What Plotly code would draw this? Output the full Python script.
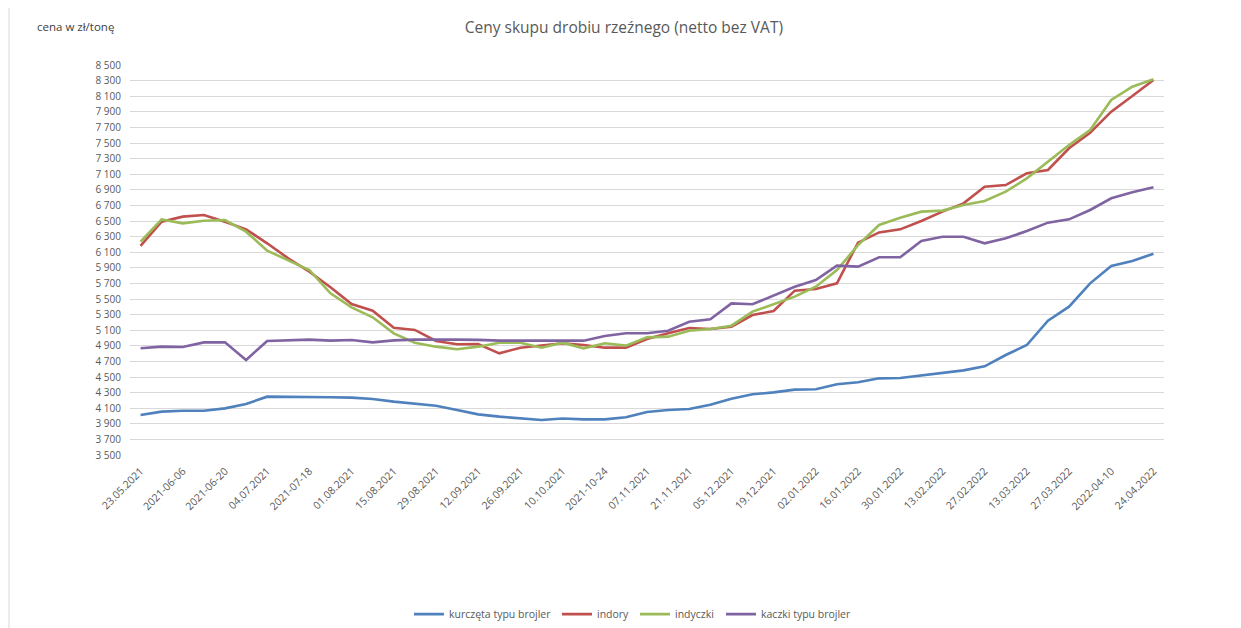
import plotly.graph_objects as go

dates = ["23.05.2021", "30.05.2021", "2021-06-06", "13.06.2021", "2021-06-20", "27.06.2021",
         "04.07.2021", "11.07.2021", "2021-07-18", "25.07.2021", "01.08.2021", "08.08.2021",
         "15.08.2021", "22.08.2021", "29.08.2021", "05.09.2021", "12.09.2021", "19.09.2021",
         "26.09.2021", "03.10.2021", "10.10.2021", "17.10.2021", "2021-10-24", "31.10.2021",
         "07.11.2021", "14.11.2021", "21.11.2021", "28.11.2021", "05.12.2021", "12.12.2021",
         "19.12.2021", "26.12.2021", "02.01.2022", "09.01.2022", "16.01.2022", "23.01.2022",
         "30.01.2022", "06.02.2022", "13.02.2022", "20.02.2022", "27.02.2022", "06.03.2022",
         "13.03.2022", "20.03.2022", "27.03.2022", "03.04.2022", "2022-04-10", "17.04.2022",
         "24.04.2022"]

kurczeta = [4013, 4056, 4068, 4068, 4098, 4154, 4248, 4248, 4240, 4240, 4235, 4218,
            4184, 4154, 4132, 4077, 4021, 3992, 3966, 3948, 3968, 3957, 3957, 3983,
            4051, 4077, 4090, 4145, 4222, 4278, 4303, 4338, 4342, 4406, 4432, 4483,
            4487, 4517, 4555, 4585, 4637, 4782, 4910, 5222, 5402, 5701, 5923, 5987,
            6081]
indory = [6180, 6491, 6556, 6577, 6491, 6393, 6214, 6021, 5850, 5650, 5436, 5350,
          5132, 5103, 4962, 4919, 4923, 4803, 4876, 4902, 4932, 4910, 4876, 4876,
          4987, 5060, 5128, 5115, 5145, 5295, 5346, 5607, 5628, 5701, 6222, 6354,
          6393, 6500, 6620, 6726, 6940, 6961, 7111, 7154, 7432, 7632, 7902, 8103,
          8308]
indyczki = [6235, 6521, 6470, 6504, 6513, 6363, 6120, 5992, 5872, 5573, 5393, 5265,
            5060, 4940, 4889, 4855, 4889, 4940, 4940, 4876, 4940, 4868, 4932, 4902,
            5008, 5017, 5094, 5115, 5158, 5338, 5436, 5530, 5658, 5872, 6190, 6449,
            6543, 6620, 6633, 6705, 6756, 6876, 7047, 7261, 7474, 7667, 8051, 8222,
            8316]
kaczki = [4868, 4889, 4885, 4944, 4944, 4718, 4962, 4970, 4979, 4966, 4974, 4944,
          4970, 4979, 4983, 4979, 4976, 4966, 4966, 4970, 4966, 4966, 5026, 5060,
          5060, 5094, 5209, 5239, 5444, 5432, 5543, 5658, 5744, 5928, 5915, 6035,
          6035, 6244, 6299, 6299, 6214, 6278, 6372, 6479, 6521, 6641, 6791, 6868,
          6932]

series_names = ["kurczęta typu brojler", "indory", "indyczki", "kaczki typu brojler"]
series_colors = ["#4F81BD", "#C0504D", "#9BBB59", "#8064A2"]

y_ticks = list(range(3500, 8501, 200))
y_text = [f"{v:,}".replace(",", " ") for v in y_ticks]

FONT = "Open Sans"
GRAY = "#595959"

# plot area in page pixels: left 130, width 1034, top 65, height 390
legend_left_px = [409, 557, 635, 721]
legend_ids = ["legend", "legend2", "legend3", "legend4"]

fig = go.Figure()
for name, vals, col, lid in zip(series_names, [kurczeta, indory, indyczki, kaczki],
                                series_colors, legend_ids):
    fig.add_trace(go.Scatter(x=dates, y=vals, mode="lines", name=name, legend=lid,
                             line=dict(color=col, width=2.6)))

legend_layout = {}
for lid, px in zip(legend_ids, legend_left_px):
    legend_layout[lid] = dict(orientation="h", x=(px - 130) / 1034, xanchor="left",
                              y=-0.408, yanchor="middle", bgcolor="rgba(0,0,0,0)",
                              font=dict(family=FONT, size=10.5, color=GRAY))

fig.update_layout(
    width=1233, height=620,
    margin=dict(l=122, r=77, t=57, b=173, autoexpand=False),
    paper_bgcolor="white", plot_bgcolor="white",
    font=dict(family=FONT, color=GRAY, size=10),
    title=dict(text="Ceny skupu drobiu rzeźnego (netto bez VAT)", x=0.4995, xanchor="center",
               y=1 - 20 / 620, yanchor="middle",
               font=dict(family=FONT, size=15.5, color=GRAY)),
    showlegend=True,
    xaxis=dict(type="category", tickmode="array", tickvals=dates[::2], ticktext=dates[::2],
               tickangle=-45, showgrid=False, showline=False, ticks="outside",
               ticklen=5, tickcolor="rgba(0,0,0,0)", automargin=False,
               tickfont=dict(family=FONT, size=10.5, color=GRAY), range=[-0.5, 48.5]),
    yaxis=dict(range=[3500, 8500], tickmode="array", tickvals=y_ticks, ticktext=y_text,
               showgrid=True, gridcolor="#D9D9D9", gridwidth=1, zeroline=False,
               showline=False, ticks="", automargin=False, ticklabelstandoff=8,
               tickfont=dict(family=FONT, size=10, color=GRAY)),
    **legend_layout,
)

fig.add_annotation(text="cena w zł/tonę", xref="paper", yref="paper",
                   x=(35 - 130) / 1034, y=1 + (65 - 27) / 390, xanchor="left", yanchor="middle",
                   showarrow=False, font=dict(family=FONT, size=11.5, color="#404040"))

fig.add_shape(type="line", xref="paper", yref="paper",
              x0=(9 - 130) / 1034, x1=(9 - 130) / 1034,
              y0=-173 / 390, y1=1 + 57 / 390,
              line=dict(color="#D9D9D9", width=1))

fig.write_html("out.html")
